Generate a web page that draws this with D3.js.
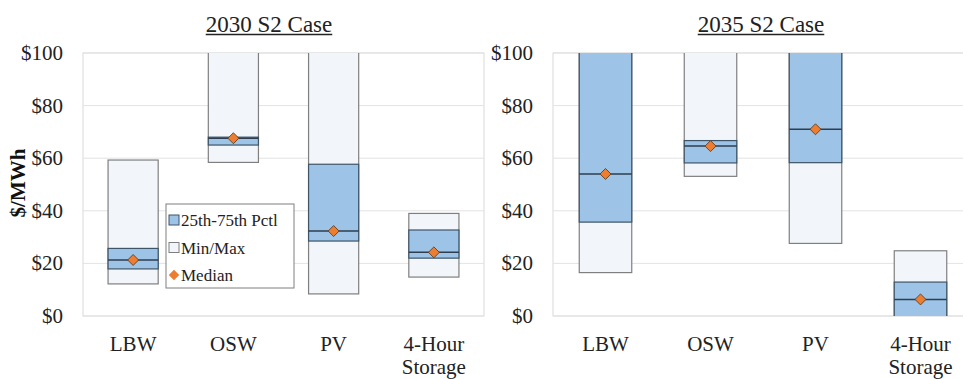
<!DOCTYPE html>
<html>
<head>
<meta charset="utf-8">
<script src="https://cdn.jsdelivr.net/npm/d3@7"></script>
</head>
<body style="margin:0">
<script>
// categories and stats ($/MWh)
const categories = ["LBW", "OSW", "PV", "4-Hour Storage"];
const yTicks = [0, 20, 40, 60, 80, 100];

// 2030 S2 Case
const min2030 = [12.2, 58.4, 8.4, 14.8];
const q1_2030 = [17.9, 65.0, 28.5, 22.0];
const med2030 = [21.3, 67.6, 32.3, 24.2];
const q3_2030 = [25.7, 68.0, 57.7, 32.7];
const max2030 = [59.3, 120, 120, 39.0];

// 2035 S2 Case
const min2035 = [16.5, 53.1, 27.6, -10];
const q1_2035 = [35.7, 58.2, 58.3, -3];
const med2035 = [54.0, 64.6, 71.0, 6.3];
const q3_2035 = [120, 66.7, 120, 12.9];
const max2035 = [120, 120, 120, 24.8];

const width = 963, height = 379;
const plotTop = 53, plotBottom = 316;

const svg = d3.select("body").append("svg")
  .attr("width", width)
  .attr("height", height)
  .attr("font-family", "Liberation Serif, Tinos, Times New Roman")
  .style("display", "block");

// every label goes through this so the serif face is set on the element itself
function label(x, yPos, str, size) {
  return svg.append("text")
    .attr("font-family", "Liberation Serif, Tinos, Times New Roman")
    .style("font-family", "'Liberation Serif', 'Tinos', 'Times New Roman'")
    .attr("x", x)
    .attr("y", yPos)
    .attr("font-size", size)
    .attr("fill", "#222")
    .text(str);
}

const y = d3.scaleLinear().domain([0, 100]).range([plotBottom, plotTop]);

function panel(idx, title, x0, x1, mins, q1s, meds, q3s, maxs, titleX) {
  const rows = categories.map((c, i) => ({
    cat: c, min: mins[i], q1: q1s[i], med: meds[i], q3: q3s[i], max: maxs[i]
  }));

  const x = d3.scaleBand()
    .domain(categories)
    .range([x0, x1])
    .paddingInner(0.5)
    .paddingOuter(0.25);

  // plot area border
  svg.append("rect")
    .attr("x", x0).attr("y", plotTop)
    .attr("width", x1 - x0).attr("height", plotBottom - plotTop)
    .attr("fill", "#fff")
    .attr("stroke", "#d9d9d9");

  // gridlines
  svg.selectAll(".grid" + idx)
    .data(yTicks)
    .enter()
    .append("line")
    .attr("x1", x0).attr("x2", x1)
    .attr("y1", d => y(d)).attr("y2", d => y(d))
    .attr("stroke", "#e3e3e3");

  // y tick labels
  yTicks.forEach(d => {
    label(x0 - 20, y(d) + 7, "$" + d, 21).attr("text-anchor", "end");
  });

  // clip
  svg.append("clipPath").attr("id", "clip" + idx)
    .append("rect")
    .attr("x", x0).attr("y", plotTop)
    .attr("width", x1 - x0).attr("height", plotBottom - plotTop);

  const bars = svg.append("g").attr("clip-path", `url(#clip${idx})`);

  // min/max
  bars.selectAll(".range")
    .data(rows)
    .enter()
    .append("rect")
    .attr("x", d => x(d.cat))
    .attr("width", x.bandwidth())
    .attr("y", d => y(d.max))
    .attr("height", d => y(d.min) - y(d.max))
    .attr("fill", "#f2f6fa")
    .attr("stroke", "#7f7f7f")
    .attr("stroke-width", 1.2);

  // 25th-75th
  bars.selectAll(".iqr")
    .data(rows)
    .enter()
    .append("rect")
    .attr("x", d => x(d.cat))
    .attr("width", x.bandwidth())
    .attr("y", d => y(d.q3))
    .attr("height", d => y(d.q1) - y(d.q3))
    .attr("fill", "#9dc3e6")
    .attr("stroke", "#3e5468")
    .attr("stroke-width", 1.2);

  // median line
  bars.selectAll(".medline")
    .data(rows)
    .enter()
    .append("line")
    .attr("x1", d => x(d.cat))
    .attr("x2", d => x(d.cat) + x.bandwidth())
    .attr("y1", d => y(d.med))
    .attr("y2", d => y(d.med))
    .attr("stroke", "#2c3e50")
    .attr("stroke-width", 1.5);

  // median diamond
  svg.selectAll(".med" + idx)
    .data(rows)
    .enter()
    .append("path")
    .attr("d", d3.symbol(d3.symbolSquare, 60))
    .attr("transform", d => `translate(${x(d.cat) + x.bandwidth() / 2},${y(d.med)}) rotate(45)`)
    .attr("fill", "#ed7d31")
    .attr("stroke", "#5a3a20")
    .attr("stroke-width", 0.8);

  // x labels
  rows.forEach(d => {
    const parts = d.cat === "4-Hour Storage" ? ["4-Hour", "Storage"] : [d.cat];
    parts.forEach((p, i) => {
      label(x(d.cat) + x.bandwidth() / 2, 351 + i * 23, p, 21).attr("text-anchor", "middle");
    });
  });

  // title with underline
  const t = label(titleX, 32, title, 23).attr("text-anchor", "middle");
  const tw = t.node().getComputedTextLength();
  svg.append("line")
    .attr("x1", titleX - tw / 2).attr("x2", titleX + tw / 2)
    .attr("y1", 34.5).attr("y2", 34.5)
    .attr("stroke", "#222")
    .attr("stroke-width", 1.3);
}

panel(0, "2030 S2 Case", 83, 484, min2030, q1_2030, med2030, q3_2030, max2030, 269);
panel(1, "2035 S2 Case", 553, 973, min2035, q1_2035, med2035, q3_2035, max2035, 761);

// y axis title
label(0, 0, "$/MWh", 21)
  .attr("x", null).attr("y", null)
  .attr("transform", "translate(25,183) rotate(-90)")
  .attr("text-anchor", "middle")
  .attr("font-weight", "bold")
  .attr("fill", "#111");

// legend
const legendItems = ["25th-75th Pctl", "Min/Max", "Median"];
const lgX = 166, lgY = 204;
svg.append("rect")
  .attr("x", lgX).attr("y", lgY)
  .attr("width", 128).attr("height", 84)
  .attr("fill", "#fff")
  .attr("stroke", "#7f7f7f");
legendItems.forEach((d, i) => {
  const cy = lgY + 16 + i * 27.5;
  if (i < 2) {
    svg.append("rect")
      .attr("x", lgX + 3).attr("y", cy - 5)
      .attr("width", 10).attr("height", 10)
      .attr("fill", i === 0 ? "#9dc3e6" : "#f2f6fa")
      .attr("stroke", i === 0 ? "#3e5468" : "#7f7f7f");
  } else {
    svg.append("path")
      .attr("d", d3.symbol(d3.symbolSquare, 55))
      .attr("transform", `translate(${lgX + 8},${cy}) rotate(45)`)
      .attr("fill", "#ed7d31");
  }
  label(lgX + 15, cy + 6, d, 17);
});
</script>
</body>
</html>
